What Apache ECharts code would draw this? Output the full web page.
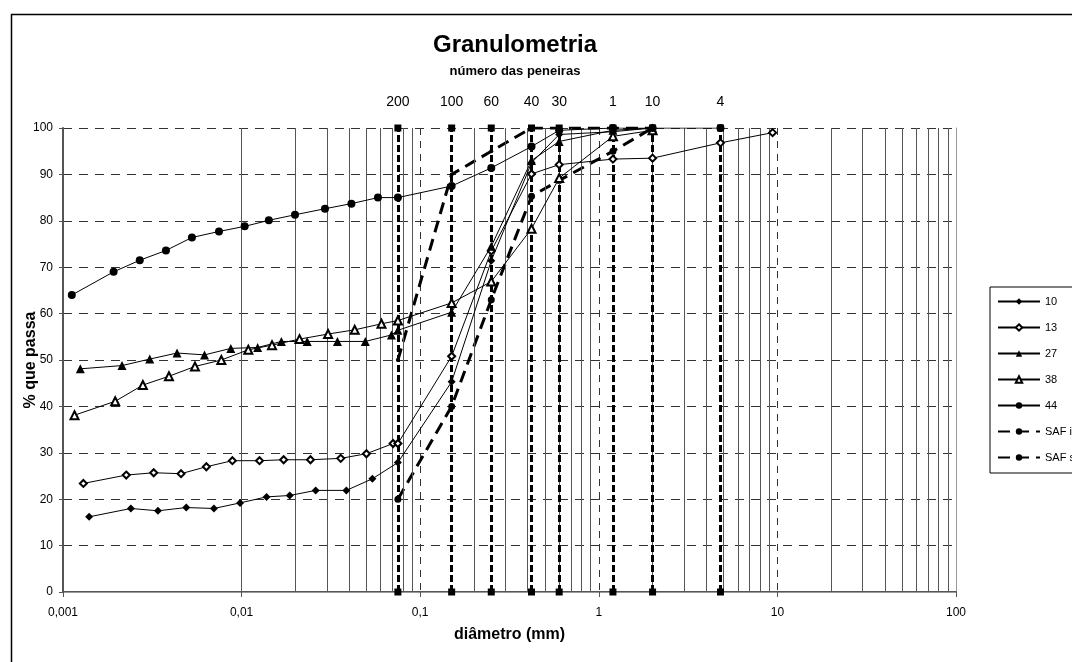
<!DOCTYPE html>
<html>
<head>
<meta charset="utf-8">
<title>Granulometria</title>
<script src="https://cdn.jsdelivr.net/npm/echarts@6/dist/echarts.min.js"></script>
<style>
html,body{margin:0;padding:0;background:#fff;}
#grafico{width:1072px;height:662px;}
</style>
</head>
<body>
<div id="grafico"></div>
<script>
// peneiras (numero) e abertura em mm
var peneiras = ['200', '100', '60', '40', '30', '1', '10', '4'];
var aberturas = [0.075, 0.15, 0.25, 0.42, 0.6, 1.2, 2.0, 4.8];

// amostras: [diametro (mm), % que passa]
var amostra10 = [[0.0014,16.2],[0.0024,18.0],[0.0034,17.5],[0.0049,18.2],[0.0070,18.0],[0.0098,19.2],[0.0138,20.5],[0.0186,20.8],[0.026,21.9],[0.0386,21.9],[0.054,24.4],[0.075,27.9],[0.15,45.3],[0.25,71.4],[0.42,92.5],[0.6,98.6],[1.2,99.2],[2.0,100]];
var amostra13 = [[0.0013,23.4],[0.00226,25.2],[0.00322,25.7],[0.00458,25.5],[0.00635,27.0],[0.00888,28.3],[0.0126,28.3],[0.0172,28.5],[0.0243,28.5],[0.0359,28.8],[0.05,29.8],[0.0705,32.0],[0.075,32.0],[0.15,50.8],[0.25,73.5],[0.42,90.1],[0.6,92.1],[1.2,93.3],[2.0,93.5],[4.8,96.8],[9.4,99.0]];
var amostra27 = [[0.00125,48.1],[0.00214,48.8],[0.00306,50.2],[0.00435,51.5],[0.0062,51.1],[0.0087,52.5],[0.0123,52.7],[0.0167,54.0],[0.0233,54.0],[0.0344,54.0],[0.0493,54.0],[0.069,55.4],[0.075,56.4],[0.15,60.3],[0.25,74.5],[0.42,93.0],[0.6,97.1],[1.2,99.5],[2.0,100]];
var amostra38 = [[0.00116,38.1],[0.00196,41.1],[0.0028,44.6],[0.00392,46.5],[0.00548,48.6],[0.0077,50.0],[0.0109,52.2],[0.0148,53.2],[0.0211,54.5],[0.0305,55.6],[0.043,56.5],[0.0607,57.8],[0.075,58.5],[0.15,62.3],[0.25,66.9],[0.42,78.3],[0.6,89.2],[1.2,98.2],[2.0,99.5]];
var amostra44 = [[0.00112,64.0],[0.00192,69.0],[0.00269,71.5],[0.00377,73.6],[0.00527,76.4],[0.00747,77.7],[0.0104,78.8],[0.0142,80.1],[0.0199,81.3],[0.0293,82.6],[0.0412,83.7],[0.058,85.0],[0.075,85.0],[0.15,87.5],[0.25,91.4],[0.42,96.0],[0.6,99.5],[1.2,100],[2.0,100],[4.8,100]];
var safInf = [[0.075,20],[0.15,40],[0.25,63],[0.42,85.3],[0.6,88.7],[1.2,95],[2.0,100]];
var safSup = [[0.075,50],[0.15,90],[0.25,95],[0.42,100],[0.6,100],[1.2,100],[2.0,100]];

var fonte = 'Liberation Sans, Arial, sans-serif';

// linhas de grade secundarias (2..9 de cada decada)
var menores = [];
for (var k = -3; k < 2; k++) {
	for (var m = 2; m < 10; m++) {
		menores.push(+(m * Math.pow(10, k)).toPrecision(3));
	}
}

var virgula = function(v){
	return String(v).replace('.', ',');
};

var amostra = function(nome, dados, simbolo, tam){
	return {
		name: nome, type: 'line', data: dados,
		symbol: simbolo, symbolSize: tam,
		lineStyle: {color: '#000', width: 1},
		itemStyle: {color: '#000'},
		z: 5
	};
};

var myChart = echarts.init(document.getElementById('grafico'));
var option = {
	animation: false,
	textStyle: {fontFamily: fonte, color: '#000'},
	title: [
		{text: 'Granulometria', left: 510, top: 28, textAlign: 'center',
			textStyle: {fontSize: 24, fontWeight: 'bold', fontFamily: fonte, color: '#000'}},
		{text: 'número das peneiras', left: 510, top: 60, textAlign: 'center',
			textStyle: {fontSize: 13, fontWeight: 'bold', fontFamily: fonte, color: '#000'}}
	],
	graphic: [{
		type: 'rect', left: 9, top: 12, silent: true, z: -10,
		shape: {width: 1200, height: 720},
		style: {fill: 'none', stroke: '#000', lineWidth: 1.5}
	}],
	legend: {
		orient: 'vertical', left: 990, top: 287,
		data: ['10', '13', '27', '38', '44', 'SAF inferior', 'SAF superior'],
		itemWidth: 42, itemHeight: 8, itemGap: 15,
		padding: [9, 10, 10, 7],
		borderColor: '#000', borderWidth: 1,
		textStyle: {fontSize: 11, color: '#000', fontFamily: fonte},
		selectedMode: false
	},
	grid: {left: 63, right: 116, top: 128, bottom: 70},
	xAxis: [{
		type: 'log', logBase: 10, min: 0.001, max: 100,
		name: 'diâmetro (mm)', nameLocation: 'middle', nameGap: 35, nameMoveOverlap: false,
		nameTextStyle: {fontSize: 16, fontWeight: 'bold', color: '#000'},
		axisLine: {show: true, lineStyle: {color: '#555', width: 2}},
		axisTick: {show: true, length: 5, lineStyle: {color: '#555'}},
		axisLabel: {formatter: virgula, fontSize: 12, color: '#000', margin: 15},
		splitLine: {show: true, lineStyle: {color: '#333', width: 1, type: [7, 6]}}
	}, {
		type: 'log', logBase: 10, min: 0.001, max: 100, position: 'top',
		axisLine: {show: true, lineStyle: {color: '#999', width: 1}},
		axisTick: {show: false}, axisLabel: {show: false}, splitLine: {show: false}
	}],
	yAxis: [{
		type: 'value', min: 0, max: 100, interval: 10,
		name: '% que passa', nameLocation: 'middle', nameGap: 24, nameMoveOverlap: false,
		nameTextStyle: {fontSize: 16, fontWeight: 'bold', color: '#000'},
		axisLine: {show: true, lineStyle: {color: '#555', width: 2}},
		axisTick: {show: true, length: 4, lineStyle: {color: '#555'}},
		axisLabel: {fontSize: 12, color: '#000', margin: 10},
		splitLine: {show: true, lineStyle: {color: '#333', width: 1, type: [9, 7]}}
	}, {
		type: 'value', min: 0, max: 100, position: 'right',
		axisLine: {show: true, lineStyle: {color: '#999', width: 1}},
		axisTick: {show: false}, axisLabel: {show: false}, splitLine: {show: false}
	}],
	series: [
		{
			name: 'grade', type: 'line', data: [], silent: true, z: 1,
			markLine: {
				silent: true, symbol: ['none', 'none'], animation: false,
				label: {show: false},
				lineStyle: {color: '#555', width: 1, type: 'solid'},
				data: menores.map(function(v){ return {xAxis: v}; })
			}
		},
		{
			name: 'peneiras', type: 'line', data: [], silent: true, z: 3,
			markLine: {
				silent: true, symbol: ['rect', 'rect'], symbolSize: 7, animation: false,
				lineStyle: {color: '#000', width: 3, type: [7, 3]},
				label: {show: true, position: 'end', formatter: '{b}', color: '#000', fontSize: 14, distance: 19},
				data: aberturas.map(function(a, i){
					return [{name: peneiras[i], coord: [a, 0]}, {coord: [a, 100]}];
				})
			}
		},
		amostra('10', amostra10, 'diamond', 8),
		amostra('13', amostra13, 'emptyDiamond', 7),
		amostra('27', amostra27, 'triangle', 9),
		amostra('38', amostra38, 'emptyTriangle', 8),
		amostra('44', amostra44, 'circle', 8),
		{
			name: 'SAF inferior', type: 'line', data: safInf,
			symbol: 'circle', symbolSize: 7,
			lineStyle: {color: '#000', width: 3, type: [12, 7]},
			itemStyle: {color: '#000'}, z: 4
		},
		{
			name: 'SAF superior', type: 'line', data: safSup,
			symbol: 'circle', symbolSize: 4,
			lineStyle: {color: '#000', width: 3, type: [12, 7]},
			itemStyle: {color: '#000'}, z: 4
		}
	]
};
myChart.setOption(option);
window.onresize = function(){
	myChart.resize();
};
</script>
</body>
</html>
